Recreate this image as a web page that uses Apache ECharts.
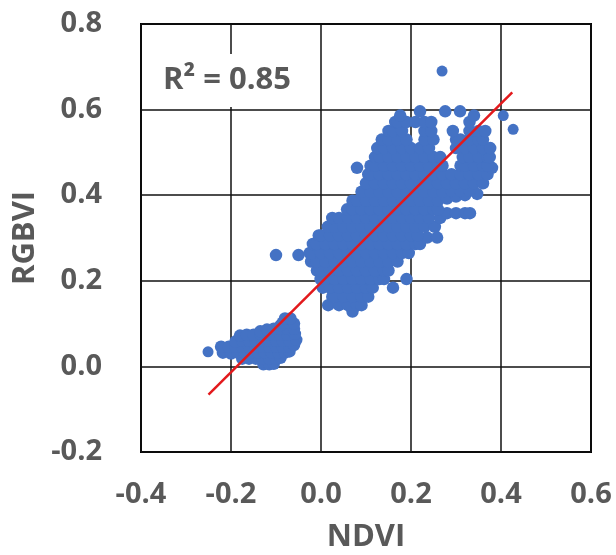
<!DOCTYPE html>
<html><head><meta charset="utf-8">
<script src="https://cdn.jsdelivr.net/npm/echarts@6/dist/echarts.min.js"></script>
<style>html,body{margin:0;padding:0;background:#fff}#c{width:616px;height:555px}</style>
</head><body><div id="c"></div>
<script>
// Axis ticks
const xTicks = [-0.4, -0.2, 0.0, 0.2, 0.4, 0.6];
const yTicks = [-0.2, 0.0, 0.2, 0.4, 0.6, 0.8];
const xName = 'NDVI';
const yName = 'RGBVI';
const rSquaredText = 'R² = 0.85';

// Soil / low-vegetation cluster [NDVI, RGBVI]
const soilPoints = [
  [-0.128,0.005],[-0.115,0.005],[-0.105,0.006],
  [-0.175,0.018],[-0.160,0.018],[-0.145,0.018],[-0.130,0.018],[-0.115,0.018],[-0.100,0.018],[-0.090,0.020],
  [-0.218,0.032],[-0.200,0.030],[-0.185,0.032],[-0.170,0.032],[-0.155,0.032],[-0.140,0.032],[-0.125,0.032],[-0.110,0.032],[-0.095,0.032],[-0.080,0.032],[-0.070,0.035],
  [-0.222,0.046],[-0.205,0.046],[-0.190,0.046],[-0.175,0.046],[-0.160,0.046],[-0.145,0.046],[-0.130,0.046],[-0.115,0.046],[-0.100,0.046],[-0.085,0.046],[-0.070,0.046],[-0.060,0.050],
  [-0.190,0.058],[-0.175,0.060],[-0.160,0.060],[-0.145,0.060],[-0.130,0.060],[-0.115,0.060],[-0.100,0.060],[-0.085,0.060],[-0.070,0.060],[-0.055,0.062],
  [-0.180,0.072],[-0.165,0.074],[-0.150,0.074],[-0.135,0.076],[-0.120,0.074],[-0.105,0.074],[-0.090,0.074],[-0.075,0.074],[-0.058,0.076],
  [-0.135,0.082],[-0.120,0.086],[-0.105,0.088],[-0.090,0.088],[-0.075,0.088],[-0.060,0.088],
  [-0.090,0.096],[-0.085,0.102],[-0.070,0.102],[-0.060,0.100],
  [-0.080,0.112],[-0.068,0.112]
];

// Main vegetation cluster [NDVI, RGBVI]
const vegPoints = [
  [0.070,0.128],
  [0.016,0.143],[0.040,0.143],[0.060,0.143],[0.080,0.143],[0.090,0.143],
  [0.025,0.163],[0.030,0.163],[0.050,0.163],[0.070,0.163],[0.090,0.163],[0.105,0.163],
  [0.004,0.184],[0.020,0.184],[0.040,0.184],[0.060,0.184],[0.080,0.184],[0.100,0.184],[0.115,0.184],[0.160,0.184],
  [-0.001,0.204],[0.010,0.204],[0.030,0.204],[0.050,0.204],[0.070,0.204],[0.090,0.204],[0.110,0.204],[0.130,0.204],[0.140,0.204],[0.190,0.204],
  [-0.009,0.224],[0.000,0.224],[0.020,0.224],[0.040,0.224],[0.060,0.224],[0.080,0.224],[0.100,0.224],[0.120,0.224],[0.140,0.224],[0.150,0.224],
  [-0.022,0.245],[-0.010,0.245],[0.010,0.245],[0.030,0.245],[0.050,0.245],[0.070,0.245],[0.090,0.245],[0.110,0.245],[0.130,0.245],[0.150,0.245],[0.170,0.245],
  [-0.100,0.260],[-0.050,0.260],
  [-0.025,0.265],[-0.020,0.265],[0.000,0.265],[0.020,0.265],[0.040,0.265],[0.060,0.265],[0.080,0.265],[0.100,0.265],[0.120,0.265],[0.140,0.265],[0.160,0.265],[0.180,0.265],[0.195,0.265],
  [-0.018,0.286],[-0.010,0.286],[0.010,0.286],[0.030,0.286],[0.050,0.286],[0.070,0.286],[0.090,0.286],[0.110,0.286],[0.130,0.286],[0.150,0.286],[0.170,0.286],[0.190,0.286],[0.210,0.286],[0.220,0.286],
  [0.236,0.301],[0.258,0.301],
  [-0.005,0.306],[0.000,0.306],[0.020,0.306],[0.040,0.306],[0.060,0.306],[0.080,0.306],[0.100,0.306],[0.120,0.306],[0.140,0.306],[0.160,0.306],[0.180,0.306],[0.200,0.306],[0.215,0.306],
  [0.015,0.326],[0.030,0.326],[0.050,0.326],[0.070,0.326],[0.090,0.326],[0.110,0.326],[0.130,0.326],[0.150,0.326],[0.170,0.326],[0.190,0.326],[0.210,0.326],[0.230,0.326],[0.253,0.326],
  [0.025,0.347],[0.040,0.347],[0.060,0.347],[0.080,0.347],[0.100,0.347],[0.120,0.347],[0.140,0.347],[0.160,0.347],[0.180,0.347],[0.200,0.347],[0.220,0.347],[0.240,0.347],[0.265,0.347],
  [0.280,0.358],[0.300,0.358],[0.320,0.358],[0.331,0.358],
  [0.058,0.367],[0.070,0.367],[0.090,0.367],[0.110,0.367],[0.130,0.367],[0.150,0.367],[0.170,0.367],[0.190,0.367],[0.210,0.367],[0.230,0.367],[0.250,0.367],[0.260,0.367],
  [0.070,0.387],[0.080,0.387],[0.100,0.387],[0.120,0.387],[0.140,0.387],[0.160,0.387],[0.180,0.387],[0.200,0.387],[0.220,0.387],[0.240,0.387],[0.260,0.387],[0.280,0.392],[0.300,0.397],[0.320,0.400],
  [0.347,0.403],
  [0.090,0.408],[0.110,0.408],[0.130,0.408],[0.150,0.408],[0.170,0.408],[0.190,0.408],[0.210,0.408],[0.230,0.408],[0.250,0.408],[0.270,0.408],[0.290,0.410],[0.310,0.410],[0.330,0.410],
  [0.100,0.428],[0.120,0.428],[0.140,0.428],[0.160,0.428],[0.180,0.428],[0.200,0.428],[0.220,0.428],[0.240,0.428],[0.260,0.428],[0.280,0.428],[0.300,0.428],[0.320,0.428],[0.340,0.428],[0.360,0.428],
  [0.105,0.449],[0.110,0.449],[0.130,0.449],[0.150,0.449],[0.170,0.449],[0.190,0.449],[0.210,0.449],[0.230,0.449],[0.250,0.449],[0.270,0.449],[0.290,0.449],[0.310,0.449],[0.330,0.449],[0.350,0.449],[0.370,0.449],
  [0.080,0.464],[0.380,0.464],
  [0.110,0.469],[0.120,0.469],[0.140,0.469],[0.160,0.469],[0.180,0.469],[0.200,0.469],[0.220,0.469],[0.240,0.469],[0.260,0.469],[0.270,0.469],[0.310,0.469],[0.320,0.469],[0.340,0.469],[0.360,0.469],[0.370,0.469],
  [0.120,0.489],[0.130,0.489],[0.150,0.489],[0.170,0.489],[0.190,0.489],[0.210,0.489],[0.230,0.489],[0.250,0.489],[0.265,0.489],[0.315,0.489],[0.330,0.489],[0.350,0.489],[0.370,0.489],[0.375,0.489],
  [0.125,0.510],[0.140,0.510],[0.160,0.510],[0.180,0.510],[0.200,0.510],[0.220,0.510],[0.240,0.510],[0.300,0.510],[0.320,0.510],[0.340,0.510],[0.360,0.510],[0.376,0.510],
  [0.135,0.530],[0.150,0.530],[0.170,0.530],[0.190,0.530],[0.230,0.530],[0.250,0.530],[0.300,0.530],[0.310,0.530],[0.330,0.530],[0.350,0.530],[0.360,0.530],
  [0.150,0.550],[0.160,0.550],[0.180,0.550],[0.230,0.550],[0.245,0.550],[0.293,0.550],[0.330,0.550],[0.350,0.550],[0.365,0.550],
  [0.165,0.571],[0.170,0.571],[0.190,0.571],[0.210,0.571],[0.230,0.571],[0.245,0.571],[0.330,0.571],
  [0.176,0.586],[0.340,0.586],
  [0.220,0.596],[0.276,0.596],[0.309,0.596]
];

// Isolated outliers [NDVI, RGBVI]
const outlierPoints = [[-0.251,0.034],[0.269,0.690],[0.405,0.586],[0.427,0.554]];

// Linear trend line end points
const trendNdvi = [-0.25, 0.425];
const trendRgbvi = [-0.066, 0.64];

const blue = '#4472C4';
const textGray = '#595959';
const fontFam = '"Open Sans", "Noto Sans", sans-serif';

const clusterPoints = soilPoints.concat(vegPoints);
const trendData = trendNdvi.map((x, i) => [x, trendRgbvi[i]]);
const fmt = v => (Math.abs(v) < 1e-9 ? 0 : v).toFixed(1);

const chart = echarts.init(document.getElementById('c'), null, {renderer: 'canvas'});
chart.setOption({
  animation: false,
  backgroundColor: '#fff',
  grid: {show: true, left: 141, right: 25, top: 24, bottom: 103, outerBoundsMode: 'none', containLabel: false,
         borderColor: '#000', borderWidth: 2, backgroundColor: 'transparent'},
  xAxis: {
    type: 'value', min: xTicks[0], max: xTicks[xTicks.length - 1], interval: 0.2,
    name: xName, nameLocation: 'middle', nameGap: 70,
    nameTextStyle: {fontFamily: fontFam, fontWeight: 'bold', fontSize: 31, color: textGray},
    axisLine: {show: false}, axisTick: {show: false},
    splitLine: {show: true, lineStyle: {color: '#111', width: 1.5}},
    axisLabel: {margin: 28, formatter: fmt, fontFamily: fontFam, fontWeight: 'bold', fontSize: 29, color: textGray}
  },
  yAxis: {
    type: 'value', min: yTicks[0], max: yTicks[yTicks.length - 1], interval: 0.2,
    name: yName, nameLocation: 'middle', nameGap: 98,
    nameTextStyle: {fontFamily: fontFam, fontWeight: 'bold', fontSize: 31, color: textGray},
    axisLine: {show: false}, axisTick: {show: false},
    splitLine: {show: true, lineStyle: {color: '#111', width: 1.5}},
    axisLabel: {margin: 39, formatter: fmt, fontFamily: fontFam, fontWeight: 'bold', fontSize: 29, color: textGray, padding: [6, 0, 0, 0]}
  },
  graphic: [{
    type: 'text', left: 155, top: 54, z: 100,
    style: {text: rSquaredText, font: 'bold 31px ' + fontFam, fill: textGray, backgroundColor: '#fff', padding: [11, 8]}
  }],
  series: [
    {type: 'scatter', data: clusterPoints, symbol: 'circle', symbolSize: 12.5, itemStyle: {color: blue, opacity: 1, borderWidth: 0}, z: 2},
    {type: 'scatter', data: outlierPoints, symbol: 'circle', symbolSize: 11, itemStyle: {color: blue, opacity: 1, borderWidth: 0}, z: 2},
    {type: 'line', data: trendData, showSymbol: false, symbol: 'none', lineStyle: {color: '#E3191C', width: 2.5}, z: 3}
  ]
});
</script></body></html>
